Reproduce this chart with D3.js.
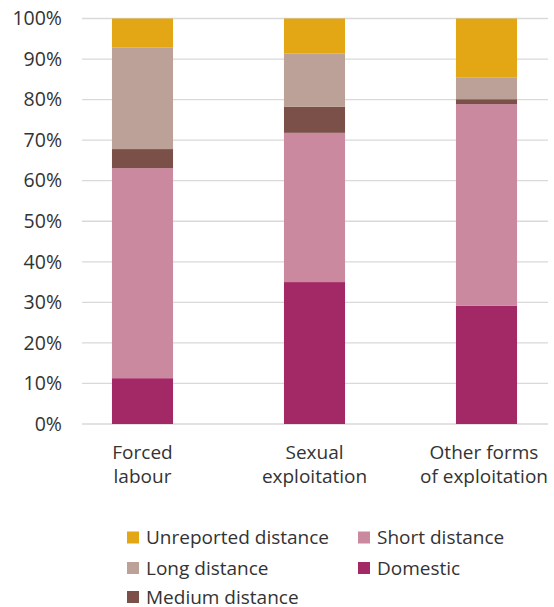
<!DOCTYPE html>
<html><head><meta charset="utf-8">
<script src="https://cdn.jsdelivr.net/npm/d3@7/dist/d3.min.js"></script>
<style>
html,body{margin:0;padding:0;background:#fff;}
text{font-family:"Open Sans",sans-serif;fill:#333;}
</style></head>
<body><svg id="c" width="554" height="607"></svg>
<script>
const categories = [["Forced","labour"],["Sexual","exploitation"],["Other forms","of exploitation"]];
const seriesNames = ["Domestic","Short distance","Medium distance","Long distance","Unreported distance"];
const domestic = [11.3, 35.0, 29.2];
const shortDist = [51.8, 36.8, 49.7];
const mediumDist = [4.7, 6.4, 1.2];
const longDist = [25.0, 13.2, 5.4];
const unreported = [7.2, 8.6, 14.5];
const yTicks = [0,10,20,30,40,50,60,70,80,90,100];
const colors = {"Domestic":"#a32966","Short distance":"#cb89a0","Medium distance":"#7b5048","Long distance":"#bba197","Unreported distance":"#e3a614"};
const legendOrder = [["Unreported distance","Short distance"],["Long distance","Domestic"],["Medium distance"]];

const svg = d3.select("#c");
const keys = categories.map(c => c.join(" "));
const rows = keys.map((k,i)=>({key:k, "Domestic":domestic[i], "Short distance":shortDist[i], "Medium distance":mediumDist[i], "Long distance":longDist[i], "Unreported distance":unreported[i]}));

const y = d3.scaleLinear().domain([0,100]).range([424,18.5]);
const x = d3.scaleBand().domain(keys).range([56.5,572.5]).paddingInner(0.645).paddingOuter(0.3225);
const gridL = 82, gridR = 548;

svg.append("g").selectAll("line").data(yTicks).join("line")
  .attr("x1",gridL).attr("x2",gridR)
  .attr("y1",d=>y(d)).attr("y2",d=>y(d))
  .attr("stroke","#d9d9d9").attr("stroke-width",1.3);

const yAxis = d3.axisLeft(y).tickValues(yTicks).tickFormat(d=>d+"%").tickSize(0).tickPadding(0);
const ga = svg.append("g").attr("transform","translate(62,0)").call(yAxis);
ga.select(".domain").remove();
ga.selectAll("text").style("font-size","19.5px").attr("fill","#333").style("font-family","'Open Sans',sans-serif");

const stack = d3.stack().keys(seriesNames)(rows);
svg.append("g").selectAll("g").data(stack).join("g")
  .attr("fill",d=>colors[d.key])
  .selectAll("rect").data(d=>d).join("rect")
  .attr("x",d=>x(d.data.key)).attr("width",x.bandwidth())
  .attr("y",d=>y(d[1])).attr("height",d=>y(d[0])-y(d[1]));

categories.forEach((c,i)=>{
  const cx = x(keys[i]) + x.bandwidth()/2;
  const t = svg.append("text").attr("text-anchor","middle").style("font-size","19px");
  c.forEach((line,j)=>t.append("tspan").attr("x",cx).attr("y",459+j*24).text(line));
  const bb = t.node().getBBox();
  if (bb.x + bb.width > gridR) {
    const shift = bb.x + bb.width - gridR;
    t.selectAll("tspan").attr("x",cx-shift);
  }
});

const colX = [127,358];
const rowY = [537.5,568,597];
legendOrder.forEach((r,ri)=>r.forEach((name,ci)=>{
  const g = svg.append("g").attr("transform",`translate(${colX[ci]},${rowY[ri]})`);
  g.append("rect").attr("x",0).attr("y",-6).attr("width",12).attr("height",12).attr("fill",colors[name]);
  g.append("text").attr("x",19).attr("y",0).attr("dy","0.35em").style("font-size","19px").text(name);
}));
</script></body></html>
